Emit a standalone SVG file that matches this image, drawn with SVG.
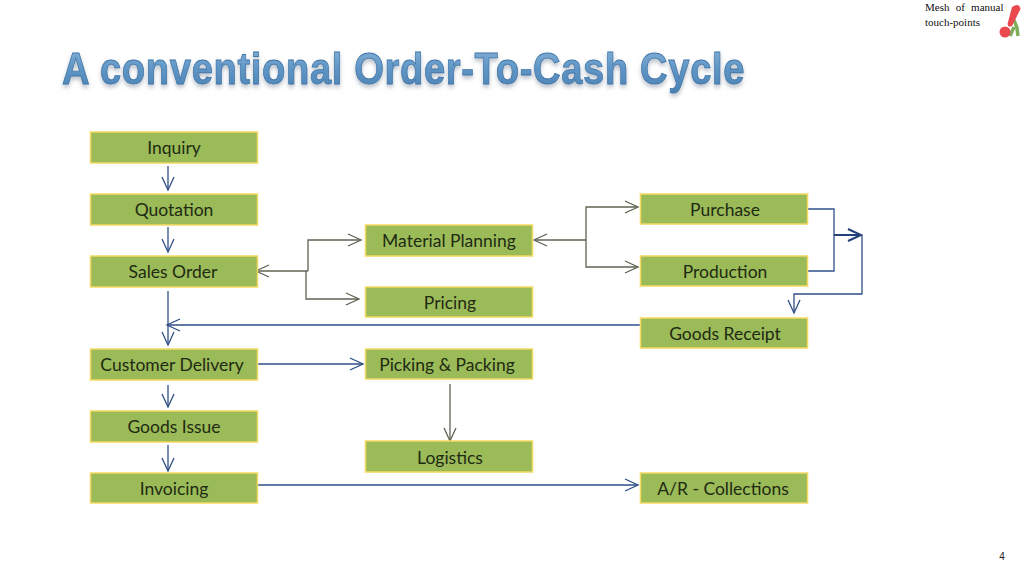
<svg xmlns="http://www.w3.org/2000/svg" width="1024" height="577" viewBox="0 0 1024 577">
<style>
.n{fill:#9bbb59;stroke:#f3d962;stroke-width:1.5}
.t{font-family:"Lato","Open Sans",sans-serif;font-size:17.5px;fill:#1f2a12;text-anchor:middle}
.b{fill:none;stroke:#2f4f86;stroke-width:1.3}
.g{fill:none;stroke:#5f6350;stroke-width:1.3}
.s{font-family:"Liberation Serif",serif;font-size:11px;fill:#111}
</style>
<defs>
<marker id="ab" markerUnits="userSpaceOnUse" markerWidth="18" markerHeight="18" refX="15" refY="9" orient="auto"><path d="M2 3L15 9L2 15" fill="none" stroke="#2f4f86" stroke-width="1.300"/></marker>
<marker id="ag" markerUnits="userSpaceOnUse" markerWidth="18" markerHeight="18" refX="15" refY="9" orient="auto"><path d="M2 3L15 9L2 15" fill="none" stroke="#5f6350" stroke-width="1.300"/></marker>
<marker id="ad" markerUnits="userSpaceOnUse" markerWidth="18" markerHeight="18" refX="15" refY="9" orient="auto"><path d="M2 3L15 9L2 15" fill="none" stroke="#234079" stroke-width="2"/></marker>
<linearGradient id="tg" x1="0" y1="0" x2="0" y2="1"><stop offset="0" stop-color="#8db6da"/><stop offset="0.5" stop-color="#5f96c6"/><stop offset="1" stop-color="#4a80b2"/></linearGradient>
<filter id="sh" x="-5%" y="-20%" width="110%" height="150%"><feDropShadow dx="0" dy="3" stdDeviation="2" flood-color="#7f8f9f" flood-opacity="0.55"/></filter>
</defs>
<rect width="1024" height="577" fill="#fff"/>
<g filter="url(#sh)"><text id="title" transform="translate(62 84) scale(.85 1)" x="0" y="0" font-family="'Liberation Sans',Arial,sans-serif" font-weight="700" font-size="45" fill="url(#tg)" stroke="#3f75a8" stroke-width="0.8" textLength="803" lengthAdjust="spacing">A conventional Order-To-Cash Cycle</text></g>
<g id="note">
<text class="s" x="925" y="11" word-spacing="3.500">Mesh of manual</text>
<text class="s" x="925" y="26">touch-points</text>
<path d="M1014 20L1017 28L1018 36M1014 27L1010 36" fill="none" stroke="#7fae5a" stroke-width="3.500"/>
<path d="M1012 7Q1019 2 1020.500 9L1012 26Q1008 28 1007.500 24Z" fill="#ea4a4f"/>
<circle cx="1005" cy="32" r="5.500" fill="#ea4a4f"/>
</g>
<g id="connectors">
<path class="b" d="M168 166V190" marker-end="url(#ab)"/>
<path class="b" d="M168 227V252" marker-end="url(#ab)"/>
<path class="b" d="M168 291V345" marker-end="url(#ab)"/>
<path class="b" d="M168 385V407" marker-end="url(#ab)"/>
<path class="b" d="M168 445V471" marker-end="url(#ab)"/>
<path class="g" d="M308 271H256" marker-end="url(#ag)"/>
<path class="g" d="M308 271V240H361" marker-end="url(#ag)"/>
<path class="g" d="M306 271V299H359" marker-end="url(#ag)"/>
<path class="g" d="M586 240H534" marker-end="url(#ag)"/>
<path class="g" d="M586 240V207H638" marker-end="url(#ag)"/>
<path class="g" d="M586 240V267H638" marker-end="url(#ag)"/>
<path class="b" d="M808 209H834V271H806"/>
<path d="M834 235H861" fill="none" stroke="#234079" stroke-width="2" marker-end="url(#ad)"/>
<path class="b" d="M862 235V294H794V313" marker-end="url(#ab)"/>
<path class="b" d="M640 325H167" marker-end="url(#ab)"/>
<path class="b" d="M258 364H363" marker-end="url(#ab)"/>
<path class="g" d="M450 384V441" marker-end="url(#ag)"/>
<path class="b" d="M258 485H638" marker-end="url(#ab)"/>
</g>
<g id="inquiry"><rect class="n" x="90.500" y="132" width="167" height="31"/><text class="t" x="174" y="154">Inquiry</text></g>
<g id="quotation"><rect class="n" x="90.500" y="194" width="167" height="31"/><text class="t" x="174" y="216">Quotation</text></g>
<g id="sales-order"><rect class="n" x="90.500" y="256" width="167" height="31"/><text class="t" x="173" y="278">Sales Order</text></g>
<g id="customer-delivery"><rect class="n" x="90.500" y="349" width="167" height="31"/><text class="t" x="172" y="371">Customer Delivery</text></g>
<g id="goods-issue"><rect class="n" x="90.500" y="411" width="167" height="31"/><text class="t" x="174" y="433">Goods Issue</text></g>
<g id="invoicing"><rect class="n" x="90.500" y="473" width="167" height="30"/><text class="t" x="174" y="495">Invoicing</text></g>
<g id="material-planning"><rect class="n" x="365.500" y="225" width="167" height="31"/><text class="t" x="449" y="247">Material Planning</text></g>
<g id="pricing"><rect class="n" x="365.500" y="287" width="167" height="30"/><text class="t" x="450" y="309">Pricing</text></g>
<g id="picking-packing"><rect class="n" x="365.500" y="349" width="167" height="30"/><text class="t" x="447" y="371">Picking &amp; Packing</text></g>
<g id="logistics"><rect class="n" x="365.500" y="441" width="167" height="31"/><text class="t" x="450" y="464">Logistics</text></g>
<g id="purchase"><rect class="n" x="640.500" y="194" width="167" height="30"/><text class="t" x="725" y="216">Purchase</text></g>
<g id="production"><rect class="n" x="640.500" y="256" width="167" height="30"/><text class="t" x="725" y="278">Production</text></g>
<g id="goods-receipt"><rect class="n" x="640.500" y="318" width="167" height="30"/><text class="t" x="725" y="340">Goods Receipt</text></g>
<g id="ar"><rect class="n" x="640.500" y="473" width="167" height="30"/><text class="t" x="723" y="495">A/R - Collections</text></g>
<text x="1002" y="560" font-family="'Liberation Sans',Arial,sans-serif" font-size="10" fill="#222" text-anchor="middle">4</text>
</svg>
